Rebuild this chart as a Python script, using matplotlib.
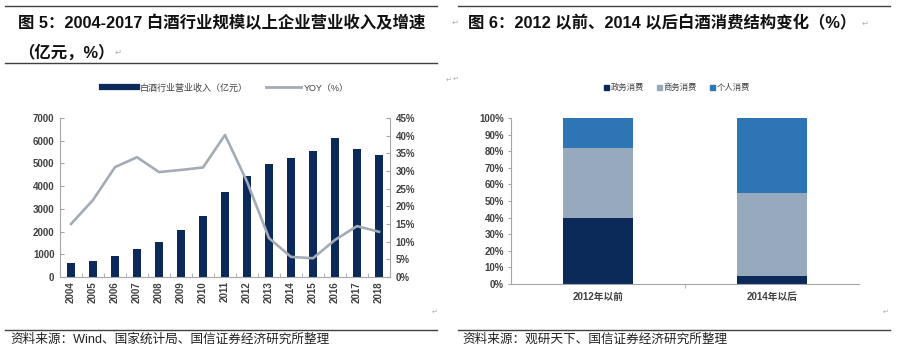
import matplotlib
matplotlib.use("Agg")
import matplotlib.pyplot as plt
from matplotlib.lines import Line2D
from matplotlib.patches import Patch
from matplotlib.ticker import FuncFormatter, MultipleLocator

plt.rcParams['font.family'] = ['Liberation Sans', 'Noto Sans CJK SC', 'DejaVu Sans']

# 图5 数据
years = ['2004', '2005', '2006', '2007', '2008', '2009', '2010', '2011',
         '2012', '2013', '2014', '2015', '2016', '2017', '2018']
revenue = [603, 705, 940, 1233, 1528, 2070, 2673, 3730,
           4463, 4978, 5242, 5537, 6110, 5626, 5374]
yoy = [15.0, 21.8, 31.1, 33.9, 29.7, 30.3, 31.0, 40.2,
       27.0, 11.0, 5.7, 5.3, 10.5, 14.4, 12.8]

# 图6 数据
periods = ['2012年以前', '2014年以后']
gov = [40, 5]
biz = [42, 50]
personal = [18, 45]
seg_names = ['政务消费', '商务消费', '个人消费']

NAVY = '#0B2A59'
GRAYBLUE = '#97A9BC'
BLUE = '#2E75B5'
LINEGRAY = '#A3ABB5'
TICKCOL = '#404040'
SPINE = '#A6A6A6'
MARK = '#B0B0B0'

W, H = 899, 357


def px(x, y):
    return x / W, 1 - y / H


fig = plt.figure(figsize=(W / 100, H / 100), dpi=100)


def hline(x0, x1, y, lw=1.0):
    a, b = px(x0, y)
    c, _ = px(x1, y)
    fig.add_artist(Line2D([a, c], [b, b], transform=fig.transFigure,
                          color='#404040', lw=lw))


def ftext(x, y, s, **kw):
    a, b = px(x, y)
    fig.text(a, b, s, **kw)


# 标题区
hline(5, 437, 6)
hline(458, 890, 6)
hline(5, 437, 63)
ftext(18, 23, '图 5：2004-2017 白酒行业规模以上企业营业收入及增速',
      fontsize=11.8, fontweight='bold', va='center', color='#111111')
ftext(18, 52, '（亿元，%）', fontsize=11.8, fontweight='bold', va='center', color='#111111')
ftext(115, 53, '↵', fontsize=6, va='center', color=MARK)
ftext(452, 23, '↵', fontsize=6, va='center', color=MARK)
ftext(468, 23, '图 6：2012 以前、2014 以后白酒消费结构变化（%）',
      fontsize=11.8, fontweight='bold', va='center', color='#111111')
ftext(862, 24, '↵', fontsize=6, va='center', color=MARK)
ftext(446, 80, '↵', fontsize=5, va='center', color=MARK)
ftext(453, 79, '↵', fontsize=5, va='center', color=MARK)

# 来源
hline(5, 437, 330)
hline(458, 890, 330)
ftext(10, 340, '资料来源：Wind、国家统计局、国信证券经济研究所整理',
      fontsize=9.1, va='center', color='#222222')
ftext(462, 340, '资料来源：观研天下、国信证券经济研究所整理',
      fontsize=9.1, va='center', color='#222222')
ftext(432, 312, '↵', fontsize=5, va='center', color=MARK)
ftext(883, 312, '↵', fontsize=5, va='center', color=MARK)

# ---------- 图5 ----------
l, b = px(60, 277)
ax1 = fig.add_axes([l, b, 330 / W, 159 / H])
x = list(range(len(years)))
ax1.bar(x, revenue, width=0.4, color=NAVY, zorder=2)
ax1.set_xlim(-0.5, len(years) - 0.5)
ax1.set_ylim(0, 7000)
ax1.yaxis.set_major_locator(MultipleLocator(1000))
ax1.set_xticks(x)
ax1.set_xticklabels(years, rotation=90, fontweight='bold')
ax1.set_xticks([k + 0.5 for k in x[:-1]], minor=True)
ax1.tick_params(axis='x', which='major', length=0, labelsize=7, labelcolor=TICKCOL, pad=3)
ax1.tick_params(axis='x', which='minor', direction='in', length=3, color=SPINE)
ax1.tick_params(axis='y', direction='in', length=3, color=SPINE, labelsize=7,
                labelcolor=TICKCOL, pad=4)
ax1.yaxis.set_major_formatter(FuncFormatter(lambda v, p: '%d' % v))
for s in ['top', 'right']:
    ax1.spines[s].set_visible(False)
for s in ['left', 'bottom']:
    ax1.spines[s].set_color(SPINE)

ax2 = ax1.twinx()
ax2.plot(x, yoy, color=LINEGRAY, lw=1.9, zorder=3)
ax2.set_ylim(0, 45)
ax2.yaxis.set_major_locator(MultipleLocator(5))
ax2.yaxis.set_major_formatter(FuncFormatter(lambda v, p: '%d%%' % v))
ax2.tick_params(axis='y', direction='in', length=3, color=SPINE, labelsize=7,
                labelcolor=TICKCOL, pad=4)
for s in ['top', 'left', 'bottom']:
    ax2.spines[s].set_visible(False)
ax2.spines['right'].set_color(SPINE)

h1 = [Line2D([], [], color=NAVY, lw=4.5), Line2D([], [], color=LINEGRAY, lw=2)]
lx, ly = px(225, 88)
fig.legend(h1, ['白酒行业营业收入（亿元）', 'YOY（%）'], loc='center',
           bbox_to_anchor=(lx, ly), ncol=2, frameon=False, fontsize=6.5,
           handlelength=3.9, handletextpad=0.3, columnspacing=2.0,
           labelcolor='#404040')

# ---------- 图6 ----------
l, b = px(511, 284)
ax3 = fig.add_axes([l, b, 348 / W, 166 / H])
xs = list(range(len(periods)))
bottom2 = [g + c for g, c in zip(gov, biz)]
ax3.bar(xs, gov, width=0.4, color=NAVY)
ax3.bar(xs, biz, width=0.4, bottom=gov, color=GRAYBLUE)
ax3.bar(xs, personal, width=0.4, bottom=bottom2, color=BLUE)
ax3.set_xlim(-0.5, 1.5)
ax3.set_ylim(0, 100)
ax3.yaxis.set_major_locator(MultipleLocator(10))
ax3.yaxis.set_major_formatter(FuncFormatter(lambda v, p: '%d%%' % v))
ax3.set_xticks(xs)
ax3.set_xticklabels(periods, fontweight='bold')
ax3.set_xticks([0.5], minor=True)
ax3.tick_params(axis='x', which='major', length=0, labelsize=7, labelcolor=TICKCOL, pad=6)
ax3.tick_params(axis='x', which='minor', direction='out', length=3, color=SPINE)
ax3.tick_params(axis='y', direction='out', length=2, color=SPINE, labelsize=7,
                labelcolor=TICKCOL, pad=3)
for s in ['top', 'right']:
    ax3.spines[s].set_visible(False)
for s in ['left', 'bottom']:
    ax3.spines[s].set_color(SPINE)

h2 = [Patch(color=NAVY), Patch(color=GRAYBLUE), Patch(color=BLUE)]
lx, ly = px(677, 88)
fig.legend(h2, seg_names, loc='center', bbox_to_anchor=(lx, ly), ncol=3,
           frameon=False, fontsize=6, handlelength=0.6, handleheight=0.6,
           handletextpad=0.2, columnspacing=1.5, labelcolor='#404040')

# 刻度标签加粗
for lab in (ax1.get_yticklabels() + ax2.get_yticklabels() + ax3.get_yticklabels()):
    lab.set_fontweight('bold')

fig.savefig('out.png', dpi=100)
